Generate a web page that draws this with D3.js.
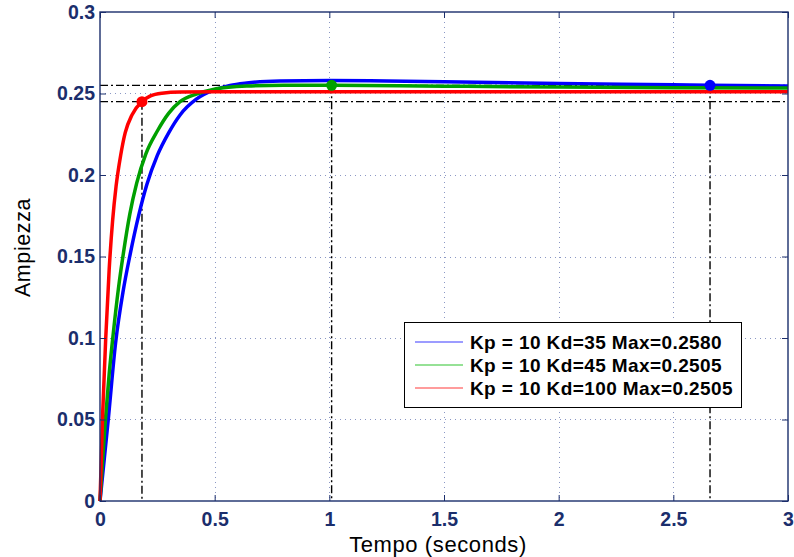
<!DOCTYPE html>
<html>
<head>
<meta charset="utf-8">
<script src="https://cdn.jsdelivr.net/npm/d3@7"></script>
<style>
  html, body { margin: 0; padding: 0; background: #fff; }
  svg { display: block; }
</style>
</head>
<body>
<svg id="chart" width="794" height="557"></svg>
<script>
// Step responses of the closed loop for three derivative gains
const timeBlue  = [0, 0.036, 0.068, 0.10, 0.131, 0.17, 0.204, 0.25, 0.30, 0.35, 0.42, 0.494, 0.567, 0.64, 0.785, 1.0, 1.25, 1.5, 2.0, 2.5, 2.66, 3.0];
const ampBlue   = [0, 0.050, 0.097, 0.128, 0.151, 0.176, 0.194, 0.212, 0.226, 0.237, 0.2465, 0.2520, 0.2550, 0.2565, 0.2577, 0.2580, 0.2577, 0.2572, 0.2562, 0.2553, 0.2550, 0.2546];

const timeGreen = [0, 0.022, 0.04, 0.058, 0.08, 0.102, 0.13, 0.16, 0.20, 0.25, 0.30, 0.349, 0.42, 0.494, 0.56, 0.64, 0.80, 1.0, 1.5, 2.0, 2.5, 3.0];
const ampGreen  = [0, 0.047, 0.078, 0.103, 0.130, 0.152, 0.176, 0.195, 0.213, 0.227, 0.238, 0.245, 0.2497, 0.2525, 0.2538, 0.2546, 0.2551, 0.2551, 0.2545, 0.2540, 0.2536, 0.2533];

const timeRed   = [0, 0.012, 0.025, 0.04, 0.055, 0.07, 0.09, 0.11, 0.14, 0.183, 0.22, 0.27, 0.35, 0.5, 1.0, 2.0, 3.0];
const ampRed    = [0, 0.055, 0.100, 0.142, 0.172, 0.193, 0.212, 0.226, 0.237, 0.245, 0.2485, 0.2502, 0.2509, 0.2510, 0.2510, 0.2510, 0.2510];

// Settling-time points (time, amplitude) and the settling band
const settleTimes = [2.66, 1.01, 0.183];
const settleAmps  = [0.255, 0.255, 0.245];
const bandLimits  = [0.245, 0.255];

const seriesNames  = ["Kp = 10 Kd=35 Max=0.2580", "Kp = 10 Kd=45 Max=0.2505", "Kp = 10 Kd=100 Max=0.2505"];
const seriesColors = ["#0000ff", "#00a000", "#ff0000"];
const legendColors = ["#3b3bff", "#2ec42e", "#ff3b3b"];

const xTicks = [0, 0.5, 1, 1.5, 2, 2.5, 3];
const xTickLabels = ["0", "0.5", "1", "1.5", "2", "2.5", "3"];
const yTicks = [0, 0.05, 0.1, 0.15, 0.2, 0.25, 0.3];
const yTickLabels = ["0", "0.05", "0.1", "0.15", "0.2", "0.25", "0.3"];

const xTitle = "Tempo (seconds)";
const yTitle = "Ampiezza";

// ---- layout ----
const svg = d3.select("#chart");
const pL = 100, pR = 788, pT = 12, pB = 501;
const axisColor = "#1b2e6c";
const gridColor = "#8a97c4";
const fontFam = "'Liberation Sans', Arial, Helvetica, sans-serif";

const x = d3.scaleLinear().domain([0, 3]).range([pL, pR]);
const y = d3.scaleLinear().domain([0, 0.3]).range([pB, pT]);

// plot background
svg.append("rect").attr("x", pL).attr("y", pT)
  .attr("width", pR - pL).attr("height", pB - pT).attr("fill", "#fff");

// dotted grid
const grid = svg.append("g").attr("stroke", gridColor).attr("stroke-width", 1)
  .attr("stroke-dasharray", "1,4");
grid.selectAll("line.gx").data(xTicks.slice(1, -1)).join("line")
  .attr("x1", d => Math.round(x(d)) + 0.5).attr("x2", d => Math.round(x(d)) + 0.5)
  .attr("y1", pT).attr("y2", pB);
grid.selectAll("line.gy").data(yTicks.slice(1, -1)).join("line")
  .attr("y1", d => Math.round(y(d)) + 0.5).attr("y2", d => Math.round(y(d)) + 0.5)
  .attr("x1", pL).attr("x2", pR);

// settling band and settling-time guides (dash-dot)
const dashDot = "8,3,2,3";
const guides = svg.append("g").attr("stroke", "#000").attr("stroke-width", 1.4)
  .attr("stroke-dasharray", dashDot).attr("fill", "none");
guides.selectAll("line.band").data(bandLimits).join("line")
  .attr("x1", pL).attr("x2", pR)
  .attr("y1", d => y(d)).attr("y2", d => y(d));
guides.selectAll("line.vt").data(settleTimes).join("line")
  .attr("x1", d => x(d)).attr("x2", d => x(d))
  .attr("y1", (d, i) => y(settleAmps[i])).attr("y2", pB);

// response curves
const line = d3.line().x(d => x(d[0])).y(d => y(d[1])).curve(d3.curveMonotoneX);
const series = [
  d3.zip(timeBlue, ampBlue),
  d3.zip(timeGreen, ampGreen),
  d3.zip(timeRed, ampRed)
];
svg.append("g").selectAll("path").data(series).join("path")
  .attr("d", line)
  .attr("fill", "none")
  .attr("stroke", (d, i) => seriesColors[i])
  .attr("stroke-width", 3.5)
  .attr("stroke-linejoin", "round");

// settling-time markers
svg.append("g").selectAll("circle").data(settleTimes).join("circle")
  .attr("cx", d => x(d))
  .attr("cy", (d, i) => y(settleAmps[i]))
  .attr("r", 5.5)
  .attr("fill", (d, i) => seriesColors[i]);

// axes with inward ticks on all four sides
const tickLen = 6;
const axB = svg.append("g").attr("transform", `translate(0,${pB})`)
  .call(d3.axisBottom(x).tickValues(xTicks).tickFormat((d, i) => xTickLabels[i])
    .tickSizeInner(-tickLen).tickSizeOuter(0).tickPadding(11));
const axL = svg.append("g").attr("transform", `translate(${pL},0)`)
  .call(d3.axisLeft(y).tickValues(yTicks).tickFormat((d, i) => yTickLabels[i])
    .tickSizeInner(-tickLen).tickSizeOuter(0).tickPadding(5));
const axT = svg.append("g").attr("transform", `translate(0,${pT})`)
  .call(d3.axisTop(x).tickValues(xTicks).tickFormat("").tickSizeInner(-tickLen).tickSizeOuter(0));
const axR = svg.append("g").attr("transform", `translate(${pR},0)`)
  .call(d3.axisRight(y).tickValues(yTicks).tickFormat("").tickSizeInner(-tickLen).tickSizeOuter(0));

[axB, axL, axT, axR].forEach(g => {
  g.select(".domain").remove();
  g.selectAll(".tick line").attr("stroke", axisColor).attr("stroke-width", 1);
  g.selectAll(".tick text")
    .attr("fill", axisColor)
    .attr("font-family", fontFam)
    .attr("font-weight", "bold")
    .attr("font-size", 19.5);
});

// axes box
svg.append("rect").attr("x", pL).attr("y", pT)
  .attr("width", pR - pL).attr("height", pB - pT)
  .attr("fill", "none").attr("stroke", axisColor).attr("stroke-width", 1.4);

// axis titles
svg.append("text")
  .attr("x", (pL + pR) / 2 - 6).attr("y", 552)
  .attr("text-anchor", "middle")
  .attr("font-family", fontFam).attr("font-size", 22).attr("letter-spacing", 0.6)
  .attr("fill", "#000").text(xTitle);
svg.append("text")
  .attr("transform", `translate(30,${(pT + pB) / 2 - 9}) rotate(-90)`)
  .attr("text-anchor", "middle")
  .attr("font-family", fontFam).attr("font-size", 21.5).attr("letter-spacing", 0.6)
  .attr("fill", "#000").text(yTitle);

// legend
const lg = svg.append("g");
lg.append("rect").attr("x", 404.5).attr("y", 322.5).attr("width", 337).attr("height", 85)
  .attr("fill", "#fff").attr("stroke", "#000").attr("stroke-width", 1);
const rowY = [342, 365, 388];
const rows = lg.selectAll("g.row").data(seriesNames).join("g")
  .attr("transform", (d, i) => `translate(0,${rowY[i]})`);
rows.append("line").attr("x1", 415).attr("x2", 463).attr("y1", 0).attr("y2", 0)
  .attr("stroke", (d, i) => legendColors[i]).attr("stroke-width", 1.2);
rows.append("text").attr("x", 470).attr("y", 0).attr("dy", "0.36em")
  .attr("font-family", fontFam).attr("font-weight", "bold").attr("font-size", 19)
  .attr("letter-spacing", 0.4)
  .attr("fill", "#000").text(d => d);
</script>
</body>
</html>
